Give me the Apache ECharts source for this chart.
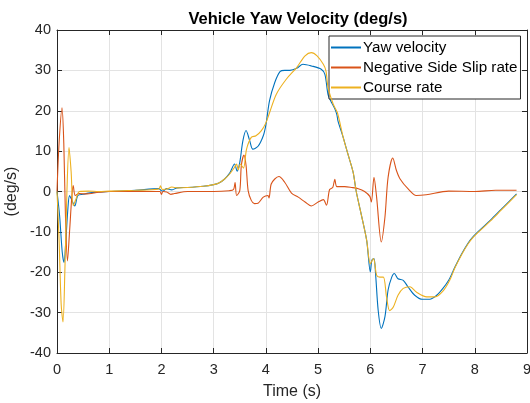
<!DOCTYPE html>
<html>
<head>
<meta charset="utf-8">
<script src="https://cdn.jsdelivr.net/npm/echarts@6/dist/echarts.min.js"></script>
<style>html,body{margin:0;padding:0;background:#fff;}#c{width:530px;height:403px;}</style>
</head>
<body>
<div id="c"></div>
<script>
const titleText = 'Vehicle Yaw Velocity (deg/s)';
const xName = 'Time (s)';
const yName = '(deg/s)';
const seriesNames = ['Yaw velocity', 'Negative Side Slip rate', 'Course rate'];
const seriesColors = ['#0072BD', '#D95319', '#EDB120'];

const yawT = [0, 0.05, 0.1, 0.134, 0.17, 0.21, 0.24, 0.28, 0.34, 0.40,
  0.5, 0.6, 0.8, 1.0, 1.5, 1.95, 2.0, 2.03, 2.1, 2.2,
  2.3, 2.5, 2.8, 3.0, 3.1, 3.21, 3.31, 3.40, 3.45, 3.50,
  3.56, 3.62, 3.69, 3.75, 3.85, 3.95, 4.0, 4.07, 4.17, 4.27,
  4.36, 4.46, 4.59, 4.71, 4.87, 5.06, 5.13, 5.19, 5.24, 5.32,
  5.36, 5.38, 5.48, 5.57, 5.67, 5.73, 5.83, 5.93, 6.0, 6.03,
  6.07, 6.10, 6.15, 6.21, 6.28, 6.34, 6.41, 6.46, 6.53, 6.63,
  6.72, 6.85, 7.0, 7.14, 7.27, 7.39, 7.5, 7.62, 7.75, 7.87,
  7.96, 8.1, 8.3, 8.5, 8.8];
const yawV = [0, -6, -15, -17.6, -12, -4, -1, -2, -3.6, -1,
  -0.7, -0.4, -0.1, 0, 0.3, 0.7, 0.2, 0.1, 0.7, 0.4,
  0.9, 1.0, 1.3, 1.7, 2.1, 3.1, 4.6, 6.8, 5.0, 7.2,
  12.6, 15.1, 12.6, 10.5, 11.2, 13.8, 16.5, 22.5, 27, 29.7,
  30.0, 30.0, 30.5, 31.5, 31.1, 30.3, 29, 24, 22.5, 20.5,
  19, 17.5, 13.4, 9.3, 4.8, 0, -5.9, -12.1, -19.9, -17,
  -16.6, -20.3, -29.4, -33.9, -31, -24.4, -21.2, -20.3, -21.6, -22,
  -23.6, -25.7, -26.7, -26.7, -25.7, -24, -22, -18.7, -15.4, -12.8,
  -11.3, -9.5, -7.1, -4.5, -0.6];

const slipT = [0, 0.04, 0.096, 0.13, 0.16, 0.2, 0.24, 0.28, 0.31, 0.35,
  0.43, 0.55, 0.8, 1.0, 1.5, 1.97, 2.0, 2.03, 2.1, 2.18,
  2.25, 2.5, 3.0, 3.3, 3.38, 3.41, 3.44, 3.5, 3.53, 3.58,
  3.62, 3.66, 3.72, 3.78, 3.85, 3.95, 4.04, 4.06, 4.10, 4.17,
  4.25, 4.36, 4.49, 4.62, 4.75, 4.87, 5.0, 5.10, 5.16, 5.22,
  5.28, 5.32, 5.36, 5.51, 5.64, 5.77, 5.89, 5.99, 6.02, 6.07,
  6.12, 6.21, 6.28, 6.34, 6.43, 6.5, 6.57, 6.72, 6.88, 7.07,
  7.5, 8.0, 8.4, 8.8];
const slipV = [0, 12, 20.7, 12, -5, -17.2, -10, -2, 1.5, -1,
  -0.5, -0.6, -0.2, 0, 0, 0, -0.7, 0, -0.1, -0.7,
  -0.5, 0, 0, 0.2, 0.5, 2.2, -1, 0.2, 6.4, 9.0,
  6.5, 0.2, -2.2, -3, -2.9, -1.4, -1.0, -1.6, 1.8, 3.1,
  3.7, 2.3, -0.4, -1.4, -2.6, -3.6, -2.6, -2, -3.4, 0.5,
  1.0, 3.0, 1.2, 1.2, 1.0, 0.7, 0, -1.2, -2.6, 3.5,
  -1.4, -12.5, -6.3, 3.5, 8.3, 5.2, 3.1, 0.7, -1, -0.8,
  0.1, 0, 0.3, 0.3];

const courseT = [0, 0.04, 0.08, 0.115, 0.15, 0.19, 0.23, 0.27, 0.31, 0.36,
  0.43, 0.6, 0.8, 1.0, 1.5, 1.95, 1.98, 2.02, 2.1, 2.2,
  2.3, 2.5, 2.8, 3.0, 3.1, 3.21, 3.31, 3.40, 3.44, 3.47,
  3.51, 3.57, 3.63, 3.72, 3.81, 3.91, 4.0, 4.07, 4.2, 4.39,
  4.59, 4.75, 4.87, 4.98, 5.1, 5.15, 5.19, 5.29, 5.37, 5.48,
  5.57, 5.67, 5.73, 5.83, 5.93, 6.0, 6.06, 6.12, 6.18, 6.25,
  6.31, 6.37, 6.44, 6.53, 6.63, 6.76, 6.88, 7.08, 7.24, 7.39,
  7.52, 7.62, 7.75, 7.87, 7.96, 8.1, 8.3, 8.5, 8.8];
const courseV = [0, -12, -28, -32.3, -20, 0, 10.9, 5, -3.5, -2,
  0, 0.1, 0, 0.1, 0.3, 0.6, 1.4, 0.5, 0.6, 1.1,
  0.9, 1.0, 1.3, 1.7, 2.1, 3.1, 4.4, 6.0, 6.8, 5.4,
  6.8, 5.8, 10.5, 13.4, 13.8, 15, 17, 19.5, 24.1, 27.8,
  30.7, 33.6, 34.4, 33.6, 31.5, 29.9, 25.8, 21.6, 19.5, 13.4,
  9.3, 4.8, 0, -5.9, -12.1, -17.9, -16.6, -20.7, -21.2, -21.2,
  -26.1, -29.5, -28.6, -25.7, -24, -23.6, -24.9, -26.1, -26.1, -24.7,
  -22, -18.9, -15.6, -13.0, -11.5, -9.7, -7.3, -4.7, -0.8];

const xMin = 0, xMax = 9, xStep = 1;
const yMin = -40, yMax = 40, yStep = 10;

const zip = (ts, vs) => ts.map((t, i) => [t, vs[i]]);
const allT = [yawT, slipT, courseT];
const allV = [yawV, slipV, courseV];

const font = '"Liberation Sans", Arial, Helvetica, sans-serif';
const axisCol = '#262626';
const gridCol = '#e3e3e3';

const chart = echarts.init(document.getElementById('c'), null, {renderer: 'canvas'});
const baseAxis = {
  axisLine: {show: true, onZero: false, lineStyle: {color: axisCol, width: 1}},
  axisTick: {show: true, inside: true, length: 5, lineStyle: {color: axisCol}},
  splitLine: {show: false},
};
chart.setOption({
  animation: false,
  backgroundColor: '#fff',
  title: {
    text: titleText, left: 293, top: 6, textAlign: 'center',
    textStyle: {fontFamily: font, fontSize: 16.5, fontWeight: 'bold', color: '#000'}
  },
  grid: {left: 57, right: 3, top: 30, bottom: 50, containLabel: false, outerBoundsMode: 'none'},
  legend: {
    orient: 'vertical', left: 329, top: 36,
    padding: [4, 3, 4, 2], itemGap: 5,
    itemWidth: 30, itemHeight: 2, icon: 'rect',
    backgroundColor: '#fff', borderColor: '#262626', borderWidth: 1,
    textStyle: {fontFamily: font, fontSize: 15.2, color: '#000', padding: [0, 0, 0, -3]},
    data: seriesNames
  },
  xAxis: [
    Object.assign({}, baseAxis, {
      type: 'value', min: xMin, max: xMax, interval: xStep, position: 'bottom',
      name: xName, nameLocation: 'middle', nameGap: 31,
      nameTextStyle: {fontFamily: font, fontSize: 16, color: axisCol},
      axisLabel: {fontFamily: font, fontSize: 14.5, color: axisCol, margin: 9},
      splitLine: {show: true, lineStyle: {color: gridCol, width: 1}}
    }),
    Object.assign({}, baseAxis, {
      type: 'value', min: xMin, max: xMax, interval: xStep, position: 'top',
      axisLabel: {show: false}
    })
  ],
  yAxis: [
    Object.assign({}, baseAxis, {
      type: 'value', min: yMin, max: yMax, interval: yStep, position: 'left',
      name: yName, nameLocation: 'middle', nameGap: 28,
      nameTextStyle: {fontFamily: font, fontSize: 16, color: axisCol},
      axisLabel: {fontFamily: font, fontSize: 14.5, color: axisCol, margin: 6},
      splitLine: {show: true, lineStyle: {color: gridCol, width: 1}}
    }),
    Object.assign({}, baseAxis, {
      type: 'value', min: yMin, max: yMax, interval: yStep, position: 'right',
      axisLabel: {show: false}
    })
  ],
  series: seriesNames.map((n, i) => ({
    name: n, type: 'line', xAxisIndex: 0, yAxisIndex: 0,
    data: zip(allT[i], allV[i]),
    showSymbol: false, symbol: 'none', smooth: 0.3,
    lineStyle: {color: seriesColors[i], width: 1.1},
    itemStyle: {color: seriesColors[i]},
    z: 2 + i
  }))
});
</script>
</body>
</html>
